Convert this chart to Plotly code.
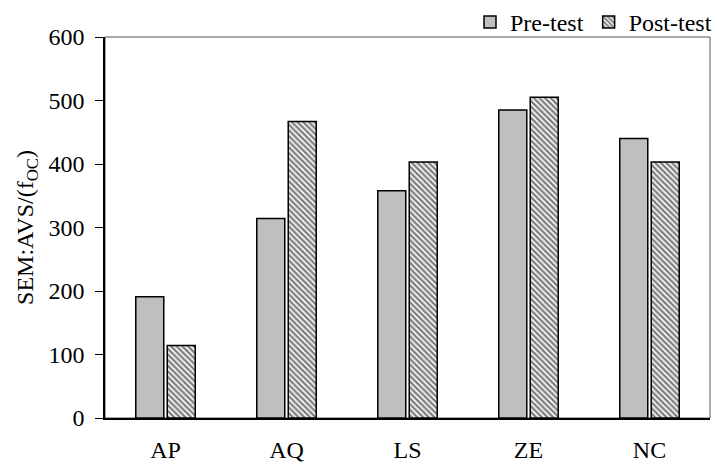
import plotly.graph_objects as go

categories = ["AP", "AQ", "LS", "ZE", "NC"]
pre_test = [191, 314, 358, 485, 440]
post_test = [114, 467, 403, 505, 403]
y_ticks = [0, 100, 200, 300, 400, 500, 600]

font = "Liberation Serif"

fig = go.Figure()
fig.add_trace(go.Bar(
    x=categories, y=pre_test, name="Pre-test",
    marker=dict(color="#bfbfbf", line=dict(color="#000000", width=1.5)),
))
fig.add_trace(go.Bar(
    x=categories, y=post_test, name="Post-test",
    marker=dict(color="#ffffff", line=dict(color="#000000", width=1.5),
                pattern=dict(shape="\\", size=4, solidity=0.6,
                             fgcolor="#000000", bgcolor="#ffffff")),
))

fig.update_layout(
    width=717, height=465,
    margin=dict(l=105, r=7, t=37, b=47, autoexpand=False),
    plot_bgcolor="white", paper_bgcolor="white",
    barmode="group", bargap=0.48, bargroupgap=0.11,
    font=dict(family=font, size=24, color="black"),
    showlegend=True,
    legend=dict(orientation="h", x=1.0, xanchor="right", xref="container",
                y=1.0, yanchor="top", yref="container",
                font=dict(family=font, size=24), itemwidth=30,
                traceorder="normal", bgcolor="rgba(0,0,0,0)",
                tracegroupgap=0),
    xaxis=dict(showline=True, linecolor="black", linewidth=1.5, ticks="",
               ticklabelstandoff=9, automargin=False,
               tickfont=dict(family=font, size=24), showgrid=False),
    yaxis=dict(range=[0, 600], tickvals=y_ticks, showline=True, linecolor="black",
               linewidth=1.5, ticks="outside", ticklen=8, tickcolor="black",
               ticklabelstandoff=6, automargin=False,
               showgrid=False, zeroline=False,
               tickfont=dict(family=font, size=24),
               title=dict(text="SEM:AVS/(f<sub>OC</sub>)",
                          font=dict(family=font, size=24), standoff=8)),
    shapes=[dict(type="rect", xref="paper", yref="paper", x0=0, x1=1, y0=0, y1=1,
                 line=dict(color="#555555", width=1), layer="below")],
)

fig.write_html("out.html")
